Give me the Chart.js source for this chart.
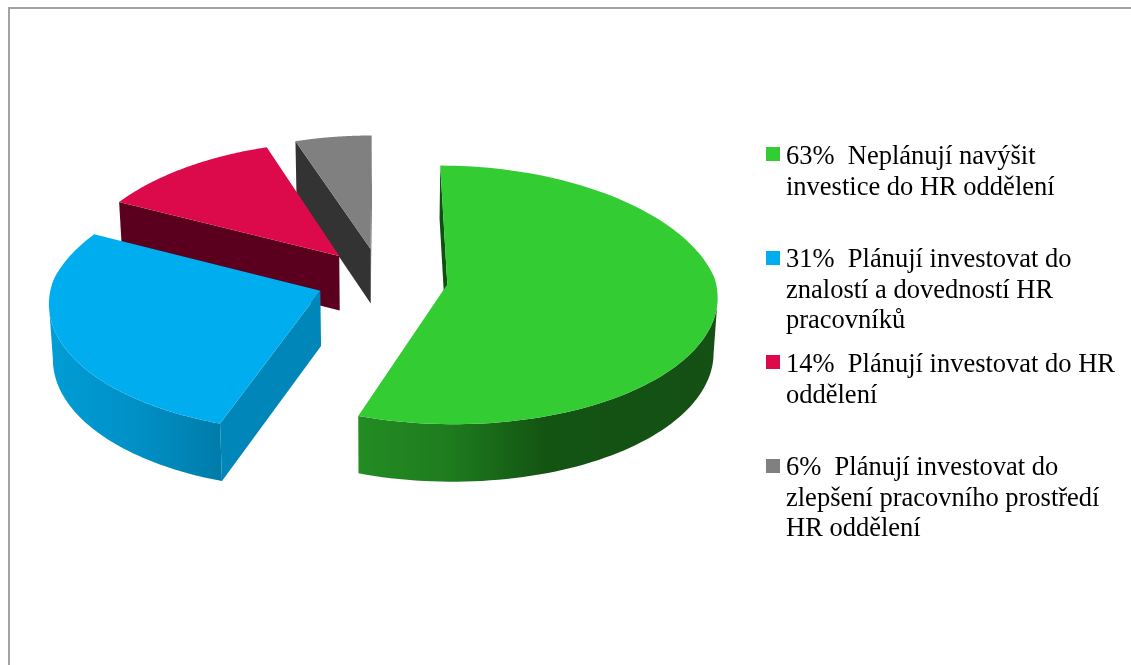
<!DOCTYPE html>
<html lang="cs">
<head>
<meta charset="utf-8">
<title>Investice do HR oddělení</title>
<style>
  html, body { margin: 0; padding: 0; background: #fff; }
  canvas { display: block; }
</style>
<script src="https://cdn.jsdelivr.net/npm/chart.js@4/dist/chart.umd.js"></script>
</head>
<body>
<canvas id="chart" width="1131" height="665"></canvas>
<script>
'use strict';

const shares = [63, 31, 14, 6];
const labelLines = [
  ['Neplánují navýšit', 'investice do HR oddělení'],
  ['Plánují investovat do', 'znalostí a dovedností HR', 'pracovníků'],
  ['Plánují investovat do HR', 'oddělení'],
  ['Plánují investovat do', 'zlepšení pracovního prostředí', 'HR oddělení'],
];

const topColors = ['#33cc33', '#00aeef', '#dc0a4b', '#808080'];
const cutColors = ['#0f4f0f', '#0086b8', '#5a001e', '#333333'];
const wallStops = [
  [[0, '#238c23'], [0.25, '#1e7c1e'], [0.52, '#135413'], [1, '#155015']],
  [[0, '#009dd6'], [0.55, '#008fc4'], [1, '#007ca9']],
  [[0, '#5a001e'], [1, '#5a001e']],
  [[0, '#333333'], [1, '#333333']],
];
const sliceOffsets = [67, 65, 65, 65];

// far slices first, so nearer ones overlap them
const paintOrder = [3, 2, 1, 0];

// legend rows: swatch top and the baseline of the first text line
const legendSwatchTop = [147, 251, 355, 459];
const legendBaseline = [164, 267, 372, 475];
const LEGEND_LINE = 30.5;

const TILT = 0.476;        // vertical squash of the pie plane
const PERSPECTIVE = 0.082; // how much nearer points grow
const FAR_NARROWING = 0.12; // stronger horizontal shrink behind the centre
const DEPTH = 55;          // wall height in px
const CONVERGE = 0.012;    // walls lean inwards towards their foot

function project(arc, u, v, drop) {
  const R = arc.outerRadius;
  const w = 1 - PERSPECTIVE * v / R;
  const wx = v < 0 ? 1 - FAR_NARROWING * v / R : w;
  let x = arc.x + u / wx;
  let y = arc.y + v * TILT / w;
  if (drop) {
    x = arc.x + (x - arc.x) * (1 - CONVERGE);
    y += DEPTH / Math.sqrt(w);
  }
  return [x, y];
}

function tracePath(ctx, pts) {
  ctx.beginPath();
  pts.forEach((p, i) => (i ? ctx.lineTo(p[0], p[1]) : ctx.moveTo(p[0], p[1])));
  ctx.closePath();
}

const pie3d = {
  id: 'pie3d',
  beforeDatasetsDraw(chart) {
    const ctx = chart.ctx;
    const arcs = chart.getDatasetMeta(0).data;

    paintOrder.forEach((i) => {
      const arc = arcs[i];
      const R = arc.outerRadius;
      const mid = (arc.startAngle + arc.endAngle) / 2;
      const offX = Math.cos(mid) * arc.options.offset;
      const offY = Math.sin(mid) * arc.options.offset;

      const steps = 120;
      const rimFlat = [];
      for (let s = 0; s <= steps; s++) {
        const a = arc.startAngle + (arc.endAngle - arc.startAngle) * s / steps;
        rimFlat.push([offX + Math.cos(a) * R, offY + Math.sin(a) * R]);
      }
      const rimTop = rimFlat.map((p) => project(arc, p[0], p[1], false));
      const rimFoot = rimFlat.map((p) => project(arc, p[0], p[1], true));
      const apexTop = project(arc, offX, offY, false);
      const apexFoot = project(arc, offX, offY, true);

      // a radial cut faces the viewer only when its edge runs leftwards
      ctx.fillStyle = cutColors[i];
      if (rimTop[0][0] - apexTop[0] < -1) {
        tracePath(ctx, [rimTop[0], apexTop, apexFoot, rimFoot[0]]);
        ctx.fill();
      }
      if (apexTop[0] - rimTop[steps][0] < -1) {
        tracePath(ctx, [rimTop[steps], apexTop, apexFoot, rimFoot[steps]]);
        ctx.fill();
      }

      // outer wall, only along the front of the rim
      const front = [];
      for (let s = 0; s < steps; s++) {
        if (rimTop[s + 1][0] < rimTop[s][0]) {
          if (!front.length) front.push(s);
          front.push(s + 1);
        }
      }
      if (front.length) {
        const xs = rimTop.map((p) => p[0]);
        const grad = ctx.createLinearGradient(Math.min(...xs), 0, Math.max(...xs), 0);
        wallStops[i].forEach((s) => grad.addColorStop(s[0], s[1]));
        ctx.fillStyle = grad;
        tracePath(ctx, front.map((s) => rimTop[s]).concat(front.map((s) => rimFoot[s]).reverse()));
        ctx.fill();
      }

      // top face
      ctx.fillStyle = topColors[i];
      tracePath(ctx, [apexTop].concat(rimTop));
      ctx.fill();
    });

    return false;
  },
  afterDraw(chart) {
    const ctx = chart.ctx;
    ctx.save();

    // chart frame, runs off the right and bottom edges
    ctx.fillStyle = '#a2a2a2';
    ctx.fillRect(8, 7, 1123, 2);
    ctx.fillRect(8, 7, 2, 658);

    ctx.font = '26.5px "Liberation Serif"';
    ctx.textBaseline = 'alphabetic';
    shares.forEach((share, i) => {
      ctx.fillStyle = topColors[i];
      ctx.fillRect(766, legendSwatchTop[i], 14, 14);
      ctx.fillStyle = '#000';
      labelLines[i].forEach((line, l) => {
        const text = l === 0 ? share + '%  ' + line : line;
        ctx.fillText(text, 786, legendBaseline[i] + l * LEGEND_LINE);
      });
    });
    ctx.restore();
  },
};

new Chart(document.getElementById('chart'), {
  type: 'pie',
  data: {
    labels: labelLines.map((l) => l.join(' ')),
    datasets: [{
      data: shares,
      backgroundColor: topColors,
      borderWidth: 0,
      offset: sliceOffsets,
      hoverOffset: 0,
    }],
  },
  options: {
    responsive: false,
    animation: false,
    events: [],
    radius: 268,
    layout: { padding: { left: 0, right: 369, top: 0, bottom: 107 } },
    plugins: { legend: { display: false }, tooltip: { enabled: false } },
  },
  plugins: [pie3d],
});
</script>
</body>
</html>
